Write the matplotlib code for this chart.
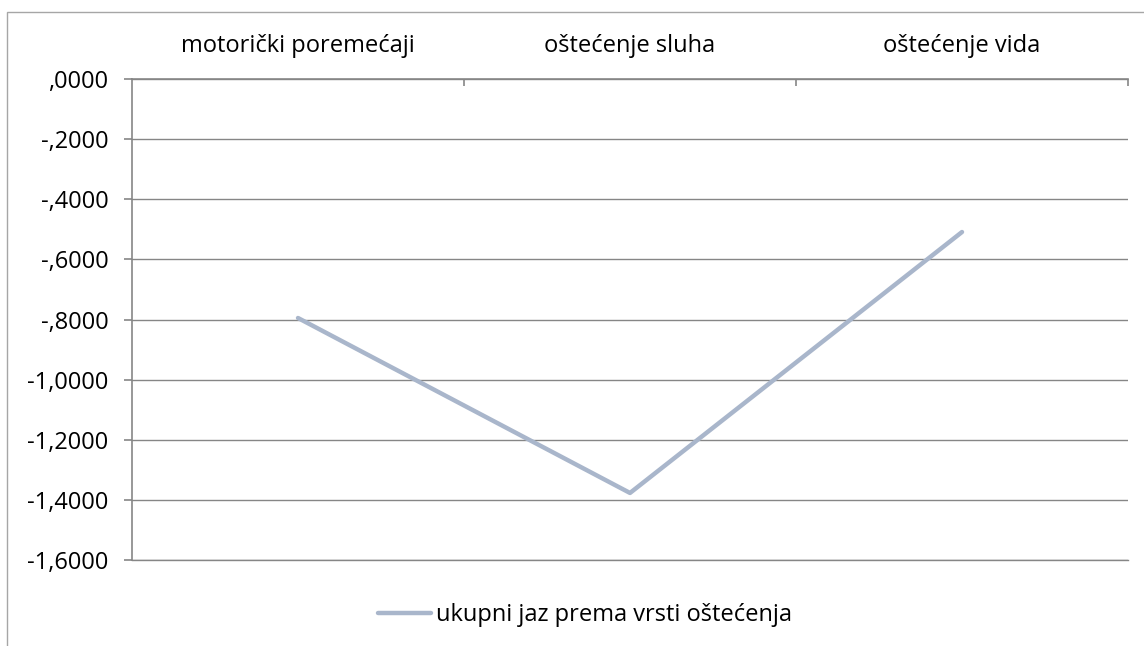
import matplotlib.pyplot as plt
from matplotlib.patches import Rectangle
from matplotlib.ticker import FuncFormatter, FixedLocator

categories = ["motorički poremećaji", "oštećenje sluha", "oštećenje vida"]
values = [-0.795, -1.377, -0.509]
series_name = "ukupni jaz prema vrsti oštećenja"
yticks = [0.0, -0.2, -0.4, -0.6, -0.8, -1.0, -1.2, -1.4, -1.6]

plt.rcParams['font.family'] = ['Open Sans', 'DejaVu Sans']

grid_col = '#868686'
line_col = '#A9B6CB'
fs = 17


def fmt(v, pos):
    s = f"{abs(v):.4f}".replace('.', ',')
    if s.startswith('0,'):
        s = s[1:]
    return ('-' if v < -1e-9 else '') + s


fig = plt.figure(figsize=(11.44, 6.46), dpi=100)
fig.patches.append(Rectangle((7 / 1144, -0.1), 1.2, 1 - 12 / 646 + 0.1,
                             transform=fig.transFigure, fill=False,
                             edgecolor='#A6A6A6', linewidth=1))

ax = fig.add_axes([132 / 1144, 1 - 560 / 646, 996 / 1144, 481 / 646])
x = list(range(len(categories)))
ax.plot(x, values, color=line_col, linewidth=3.2, solid_capstyle='round',
        label=series_name)

ax.set_xlim(-0.5, len(categories) - 0.5)
ax.set_ylim(-1.6, 0)
ax.set_yticks(yticks)
ax.yaxis.set_major_formatter(FuncFormatter(fmt))
ax.grid(axis='y', color=grid_col, linewidth=1)
ax.set_axisbelow(True)

ax.spines['right'].set_visible(False)
for s in ['left', 'top', 'bottom']:
    ax.spines[s].set_color(grid_col)
    ax.spines[s].set_linewidth(1.2)
ax.spines['bottom'].set_linewidth(1)

ax.xaxis.tick_top()
ax.xaxis.set_major_locator(FixedLocator([0.5, 1.5, 2.5]))
ax.xaxis.set_major_formatter(FuncFormatter(lambda v, p: ''))
ax.xaxis.set_minor_locator(FixedLocator(x))
ax.set_xticklabels(categories, minor=True)
ax.tick_params(axis='x', which='major', direction='in', length=5, color=grid_col, width=1.2)
ax.tick_params(axis='x', which='minor', length=0, pad=15, labelsize=fs, labeltop=True, labelbottom=False)
ax.tick_params(axis='y', direction='out', length=6, color=grid_col, width=1.2, pad=11, labelsize=fs)

fig.legend(loc='center', bbox_to_anchor=(585 / 1144, 1 - 615 / 646), frameon=False,
           fontsize=fs, handlelength=2.25, handletextpad=0.2)

fig.savefig("out.png", dpi=100)
